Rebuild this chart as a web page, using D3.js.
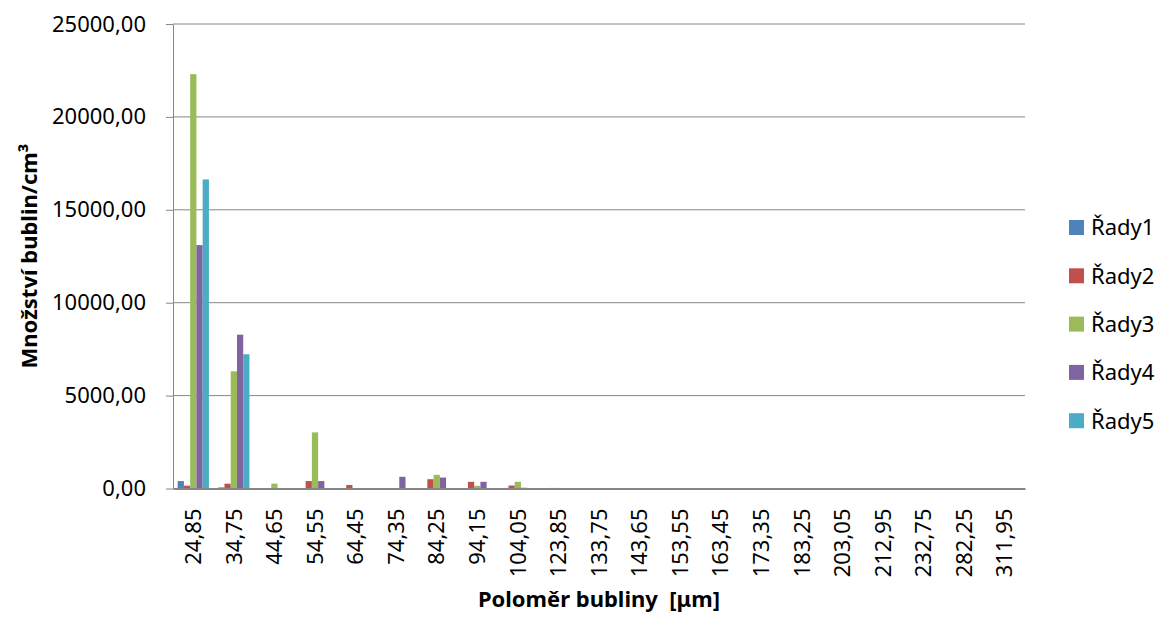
<!DOCTYPE html>
<html>
<head>
<meta charset="utf-8">
<script src="https://cdn.jsdelivr.net/npm/d3@7"></script>
<style>
  body { margin: 0; background: #fff; }
  svg { font-family: "Noto Sans", sans-serif; }
  .axis text { font-family: "Noto Sans", sans-serif; font-size: 22px; fill: #000; }
  .grid line { stroke: #868686; stroke-width: 1; }
  .y.axis path, .y.axis line, .x.axis path { stroke: #868686; }
</style>
</head>
<body>
<svg width="1160" height="619"></svg>
<script>
// **** Data ****
var categories = ['24,85','34,75','44,65','54,55','64,45','74,35','84,25','94,15','104,05','123,85',
    '133,75','143,65','153,55','163,45','173,35','183,25','203,05','212,95','232,75','282,25','311,95'];

var seriesNames = ['Řady1','Řady2','Řady3','Řady4','Řady5'];
var seriesColors = ['#4F81BD','#C0504D','#9BBB59','#8064A2','#4BACC6'];

var rady1 = [400, 60, 0, 0, 0, 0, 0, 0, 30, 0, 0, 0, 0, 20, 0, 25, 0, 0, 0, 0, 0];
var rady2 = [150, 260, 0, 400, 190, 0, 500, 360, 160, 30, 0, 0, 0, 0, 0, 0, 0, 0, 0, 0, 0];
var rady3 = [22300, 6310, 260, 3020, 0, 0, 735, 145, 360, 30, 0, 0, 0, 0, 0, 0, 0, 0, 0, 0, 0];
var rady4 = [13100, 8280, 0, 400, 0, 630, 590, 360, 40, 0, 0, 0, 0, 0, 0, 0, 0, 0, 0, 0, 0];
var rady5 = [16635, 7225, 0, 0, 0, 0, 0, 0, 0, 0, 0, 25, 0, 0, 0, 0, 0, 0, 0, 0, 0];

var seriesValues = [rady1, rady2, rady3, rady4, rady5];
var yTicks = [0, 5000, 10000, 15000, 20000, 25000];

// **** Scales ****
var svg = d3.select('svg');
var plotLeft = 173, plotRight = 1025, plotTop = 24, plotBottom = 488.5;

var xScale = d3.scaleBand().domain(categories).range([plotLeft, plotRight])
    .paddingInner(0.23).paddingOuter(0.115);
var seriesScale = d3.scaleBand().domain(seriesNames).range([0, xScale.bandwidth()]);
var yScale = d3.scaleLinear().domain([0, 25000]).range([plotBottom, plotTop]);

// gridlines
svg.append('g').attr('class', 'grid')
    .selectAll('line').data(yTicks.slice(1)).enter().append('line')
    .attr('x1', plotLeft).attr('x2', plotRight)
    .attr('y1', d => yScale(d)).attr('y2', d => yScale(d));

// bars
var groups = svg.append('g').selectAll('g')
    .data(seriesNames).enter().append('g')
    .attr('fill', (d, i) => seriesColors[i]);

groups.selectAll('rect')
    .data((name, i) => seriesValues[i].map((v, j) => ({ name: name, cat: categories[j], value: v })))
    .enter().append('rect')
    .attr('x', d => xScale(d.cat) + seriesScale(d.name))
    .attr('width', seriesScale.bandwidth())
    .attr('y', d => yScale(d.value))
    .attr('height', d => yScale(0) - yScale(d.value));

// axes
svg.append('g').attr('class', 'y axis')
    .attr('transform', 'translate(' + plotLeft + ',0)')
    .call(d3.axisLeft(yScale).tickValues(yTicks).tickSize(7).tickSizeOuter(0).tickPadding(20)
        .tickFormat(d => d + ',00'));

var xAxis = svg.append('g').attr('class', 'x axis')
    .attr('transform', 'translate(0,' + plotBottom + ')')
    .call(d3.axisBottom(xScale).tickSize(0).tickSizeOuter(0));
xAxis.select('.domain').attr('stroke-width', 2);
xAxis.selectAll('text')
    .attr('transform', 'rotate(-90)')
    .attr('text-anchor', 'end')
    .attr('x', -20)
    .attr('y', 0)
    .attr('dy', '0.35em');

// axis titles
svg.append('text')
    .attr('x', (plotLeft + plotRight) / 2)
    .attr('y', 607)
    .attr('text-anchor', 'middle')
    .attr('font-size', '22px')
    .attr('font-weight', 'bold')
    .style('white-space', 'pre')
    .text('Poloměr bubliny  [μm]');

svg.append('text')
    .attr('transform', 'rotate(-90)')
    .attr('x', -(plotTop + plotBottom) / 2)
    .attr('y', 37)
    .attr('text-anchor', 'middle')
    .attr('font-size', '22px')
    .attr('font-weight', 'bold')
    .text('Množství bublin/cm³');

// legend
var legend = svg.append('g').selectAll('g')
    .data(seriesNames).enter().append('g')
    .attr('transform', (d, i) => 'translate(1069,' + (227.5 + i * 48.3) + ')');
legend.append('rect')
    .attr('x', 0).attr('y', -7.5).attr('width', 15).attr('height', 15)
    .attr('fill', (d, i) => seriesColors[i]);
legend.append('text')
    .attr('x', 22).attr('y', 0).attr('dy', '0.36em')
    .attr('font-size', '22px')
    .text(d => d);
</script>
</body>
</html>
